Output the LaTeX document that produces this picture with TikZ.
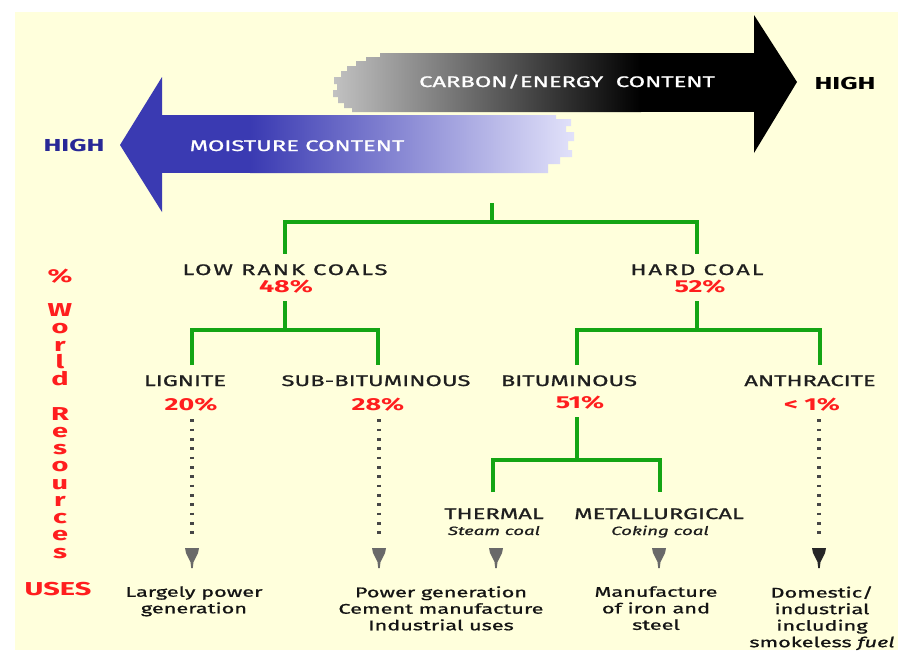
\documentclass[tikz,border=0pt]{standalone}
\usepackage{fontspec}
\setmainfont{Fira Sans}[FakeStretch=1.55]
\newfontfamily\medfont{Fira Sans}[FakeStretch=1.55,FakeBold=1.0]
\newfontfamily\medwide{Fira Sans}[FakeStretch=1.55,FakeBold=1.0,LetterSpace=12]
\usetikzlibrary{calc}
\definecolor{bgY}{RGB}{255,255,220}
\definecolor{treeG}{RGB}{20,165,20}
\definecolor{redT}{RGB}{255,30,30}
\definecolor{blueA}{RGB}{58,58,178}
\definecolor{blueB}{RGB}{226,226,250}
\definecolor{blueT}{RGB}{40,40,150}
\definecolor{dotC}{RGB}{70,70,70}
\definecolor{headC}{RGB}{105,105,105}
\begin{document}
\begin{tikzpicture}[x=0.75pt,y=-0.75pt,
 lbl/.style={anchor=base,inner sep=0pt,text height=8pt,text depth=0pt,outer ysep=8pt,font=\medfont\fontsize{11.5}{13}\selectfont,text=black!88},
 wlbl/.style={lbl,font=\medwide\fontsize{11.5}{13}\selectfont},
 pct/.style={anchor=base,inner sep=0pt,text height=8pt,text depth=0pt,outer ysep=7pt,font=\fontsize{13}{15}\selectfont\bfseries,text=redT},
 subl/.style={anchor=base,inner sep=0pt,font=\medfont\fontsize{9}{10}\selectfont\itshape,text=black!88},
 use/.style={anchor=north,inner sep=0pt,align=center,font=\medfont\fontsize{10.5}{12.4}\selectfont,text=black!92},
 tree/.style={draw=treeG,line width=3pt},
 dots/.style={draw=dotC,line width=3pt,dash pattern=on 2pt off 5pt},
 vert/.style={anchor=base,inner sep=0pt,font=\fontsize{14}{15}\selectfont\bfseries,text=redT},
 high/.style={anchor=base,inner sep=0pt,font=\fontsize{13}{15}\selectfont\bfseries},
 arrtxt/.style={anchor=base,inner sep=0pt,text=white,font=\medfont\fontsize{11.5}{13}\selectfont}]
\useasboundingbox (0,0) rectangle (903,650);
\fill[white] (0,0) rectangle (903,650);
\fill[bgY] (15,12) rectangle (898,650);

% carbon / energy arrow
\shade[left color=black!24,right color=black] (380,53) -- (641,53) -- (641,112) -- (352,112) -- (352,108) -- (344,108) -- (344,103) -- (338,103) -- (338,97) -- (333,97) -- (333,90) -- (337,90) -- (337,84) -- (334,84) -- (334,77) -- (341,77) -- (341,71) -- (347,71) -- (347,66) -- (356,66) -- (356,61) -- (366,61) -- (366,57) -- (380,57) -- cycle;
\fill[black] (640,53) rectangle (755,112);
\fill[black] (754,15) -- (797,82) -- (754,153) -- cycle;
\node[arrtxt] (ct) at (567,87) {CARBON/ENERGY\ \ CONTENT};
\node[high,text=black] (hr) at (845,89) {HIGH};

% moisture arrow
\fill[blueA] (162,77) -- (120,145) -- (162,212) -- cycle;
\fill[blueA] (161,115) rectangle (251,173);
\shade[left color=blueA,right color=blueB] (250,115) -- (556,115) -- (556,119) -- (571,119) -- (571,126) -- (566,126) -- (566,132) -- (574,132) -- (574,141) -- (568,141) -- (568,150) -- (572,150) -- (572,157) -- (560,157) -- (560,164) -- (548,164) -- (548,173) -- (250,173) -- cycle;
\node[arrtxt] (mt) at (297,151) {MOISTURE CONTENT};
\node[high,text=blueT] (hl) at (74,151) {HIGH};

% labels
\node[wlbl] (lowl) at (285,275) {LOW RANK COALS};
\node[pct] (lowp) at (286,292) {48\%};
\node[wlbl] (hardl) at (697,275) {HARD COAL};
\node[pct] (hardp) at (700,292) {52\%};
\node[lbl] (lig) at (185,386) {LIGNITE};
\node[pct] (ligp) at (191,410) {20\%};
\node[lbl] (sub) at (376,386) {SUB-BITUMINOUS};
\node[pct] (subp) at (378,410) {28\%};
\node[lbl] (bit) at (569,386) {BITUMINOUS};
\node[pct] (bitp) at (580,408) {51\%};
\node[lbl] (ant) at (810,386) {ANTHRACITE};
\node[pct] (antp) at (812,410) {< 1\%};
\node[lbl,outer ysep=12pt] (the) at (494,519) {THERMAL};
\node[subl] (thes) at (494,535) {Steam coal};
\node[lbl,outer ysep=12pt] (met) at (659,519) {METALLURGICAL};
\node[subl] (mets) at (660,535) {Coking coal};

% tree
\coordinate (root) at (492,203);
\coordinate (topbar) at (492,222);
\coordinate (lowbar) at (285,330);
\coordinate (hardbar) at (697,330);
\coordinate (bitbar) at (577,460);
\coordinate (ligtop) at (192,365);
\coordinate (subtop) at (378,365);
\coordinate (bittop) at (577,365);
\coordinate (anttop) at (820,365);
\coordinate (thetop) at (493,492);
\coordinate (mettop) at (660,492);
\draw[tree] (root) -- (topbar);
\draw[tree] (lowl.north) |- (topbar) -| (hardl.north);
\draw[tree] (lowp.south -| lowbar) -- (lowbar);
\draw[tree] (ligtop) |- (lowbar) -| (subtop);
\draw[tree] (hardp.south -| hardbar) -- (hardbar);
\draw[tree] (bittop) |- (hardbar) -| (anttop);
\draw[tree] (bitp.south -| bitbar) -- (bitbar);
\draw[tree] (thetop) |- (bitbar) -| (mettop);

% dotted connectors and heads
\coordinate (h20) at (192,558);
\coordinate (h28) at (379,558);
\coordinate (hth) at (496,558);
\coordinate (hmet) at (659,558);
\coordinate (hant) at (819,558);
\coordinate (d20) at (192,540);
\coordinate (d28) at (379,540);
\coordinate (dant) at (819,540);
\draw[dots] (ligp.south -| d20) -- (d20);
\draw[dots] (subp.south -| d28) -- (d28);
\draw[dots] (antp.south -| dant) -- (dant);
\foreach \h/\c in {h20/headC,h28/headC,hth/headC,hmet/headC,hant/black!85}
  \fill[\c] (\h) ++(-7,-10) -- ++(14,0) -- ++(-1,5) -- ++(-4.5,9) -- ++(-0.7,6) -- ++(-1.6,0) -- ++(-0.7,-6) -- ++(-4.5,-9) -- cycle;

% uses
\node[use] (u1) at (194,586) {Largely power\\generation};
\node[use] (u2) at (441,586) {Power generation\\Cement manufacture\\Industrial uses};
\node[use] (u3) at (656,586) {Manufacture\\of iron and\\steel};
\node[use] (u4) at (822,586) {Domestic/\\industrial\\including\\smokeless \textit{fuel}};

% left vertical label
\node[vert] (pc) at (60,282) {\%};
\foreach \ch/\k [count=\i] in {W/2,o/3,r/4,l/5,d/6,R/8,e/9,s/10,o/11,u/12,r/13,c/14,e/15,s/16}
  \node[vert] (v\i) at (60,{282+\k*17.25}) {\ch};
\node[vert] (uses) at (58,595) {USES};
\end{tikzpicture}
\end{document}
